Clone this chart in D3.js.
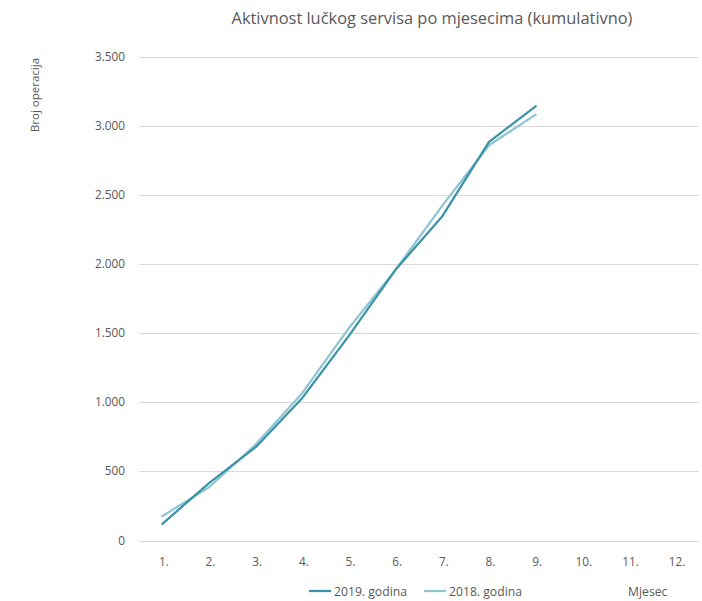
<!DOCTYPE html>
<html><head><meta charset="utf-8">
<script src="https://cdn.jsdelivr.net/npm/d3@7"></script>
<style>body{margin:0;background:#fff;} text{font-family:"Open Sans",sans-serif;}</style>
</head><body>
<svg id="c" width="702" height="601"></svg>
<script>
const months = ["1.","2.","3.","4.","5.","6.","7.","8.","9.","10.","11.","12."];
const yTicks = [0,500,1000,1500,2000,2500,3000,3500];
const s2019 = [120,415,675,1031,1482,1959,2345,2882,3140];
const s2018 = [176,385,694,1067,1537,1959,2422,2858,3080];
const seriesNames = ["2019. godina","2018. godina"];
const colors = ["#3a93a6","#8ec4d3"];

const svg = d3.select("#c");
const L=139, R=699, T=56.5, B=540.5;
const x = d3.scaleBand().domain(months).range([L,R]);
const y = d3.scaleLinear().domain([0,3500]).range([B,T]);
const txt="#595959";

svg.append("text").attr("x",432).attr("y",24).attr("text-anchor","middle")
  .attr("font-size",16.4).attr("fill",txt).text("Aktivnost lučkog servisa po mjesecima (kumulativno)");

const gy = svg.append("g");
gy.selectAll("line").data(yTicks).join("line")
  .attr("x1",L).attr("x2",R).attr("y1",d=>Math.round(y(d))+0.5).attr("y2",d=>Math.round(y(d))+0.5)
  .attr("stroke","#d9d9d9").attr("stroke-width",1);
gy.selectAll("text").data(yTicks).join("text")
  .attr("x",125).attr("y",d=>y(d)+4).attr("text-anchor","end")
  .attr("font-size",11.8).attr("fill",txt).text(d=>d3.format(",")(d).replace(/,/g,"."));

svg.append("g").selectAll("text").data(months).join("text")
  .attr("x",d=>x(d)+x.bandwidth()/2+1.5).attr("y",566).attr("text-anchor","middle")
  .attr("font-size",11.8).attr("fill",txt).text(d=>d);

svg.append("text").attr("transform","translate(39,95) rotate(-90)").attr("text-anchor","middle")
  .attr("font-size",11.5).attr("fill",txt).text("Broj operacija");

const line = d3.line().x((d,i)=>x(months[i])+x.bandwidth()/2).y(d=>y(d));
[s2018,s2019].forEach((s,k)=>{
  const c = k===0?colors[1]:colors[0];
  svg.append("path").datum(s).attr("d",line).attr("fill","none").attr("stroke",c)
    .attr("stroke-width",2.25).attr("stroke-linejoin","round").attr("stroke-linecap","round");
});

const lg = svg.append("g");
const lx=[309,424];
seriesNames.forEach((n,i)=>{
  lg.append("line").attr("x1",lx[i]).attr("x2",lx[i]+22).attr("y1",591).attr("y2",591)
    .attr("stroke",colors[i]).attr("stroke-width",2.25);
  lg.append("text").attr("x",lx[i]+25).attr("y",595.5).attr("font-size",12.2).attr("fill",txt).text(n);
});
svg.append("text").attr("x",628).attr("y",595.5).attr("font-size",12.2).attr("fill",txt).text("Mjesec");
</script>
</body></html>
